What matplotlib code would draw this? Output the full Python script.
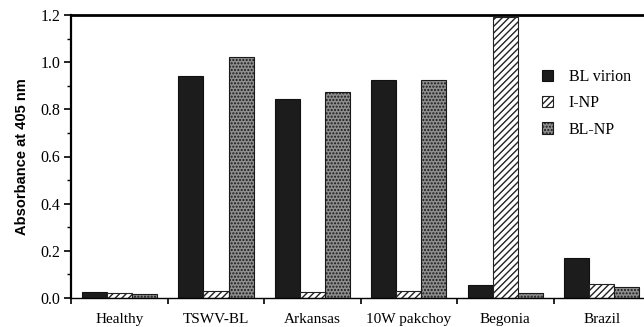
import matplotlib
matplotlib.use("Agg")
import matplotlib.pyplot as plt
from matplotlib.patches import Patch
from matplotlib.ticker import MultipleLocator, FixedLocator
import numpy as np

categories = ["Healthy", "TSWV-BL", "Arkansas", "10W pakchoy", "Begonia", "Brazil"]
bl_virion = [0.025, 0.94, 0.845, 0.925, 0.055, 0.17]
i_np = [0.02, 0.03, 0.025, 0.03, 1.19, 0.06]
bl_np = [0.017, 1.022, 0.874, 0.925, 0.02, 0.045]
series_names = ["BL virion", "I-NP", "BL-NP"]
y_ticks = [0.0, 0.2, 0.4, 0.6, 0.8, 1.0, 1.2]

serif = ["Liberation Serif", "DejaVu Serif"]
plt.rcParams["hatch.linewidth"] = 1.0

W, H = 644, 327
fig = plt.figure(figsize=(W / 100, H / 100), dpi=100)
left, right, top, bottom = 71.3, 650, 15, 298
ax = fig.add_axes([left / W, (H - bottom) / H, (right - left) / W, (bottom - top) / H])

x = np.arange(len(categories))
bw = 0.26
ax.bar(x - bw, bl_virion, bw, color="#1c1c1c", edgecolor="#111111", linewidth=0.8, label=series_names[0])
ax.bar(x, i_np, bw, color="white", edgecolor="#222222", hatch="/////", linewidth=0.8, label=series_names[1])
ax.bar(x + bw, bl_np, bw, color="#8e8e8e", edgecolor="#1a1a1a", hatch=".....", linewidth=0.8, label=series_names[2])

ax.set_xlim(-0.5, len(categories) - 0.5)
ax.set_ylim(0, 1.2)
ax.yaxis.set_major_locator(FixedLocator(y_ticks))
ax.yaxis.set_minor_locator(MultipleLocator(0.1))
ax.set_yticklabels([f"{v:.1f}" for v in y_ticks], fontfamily=serif, fontsize=11.5)

ax.set_xticks(x)
ax.set_xticklabels(categories, fontfamily=serif, fontsize=11)
ax.tick_params(axis="x", which="major", length=0, pad=11)
ax.set_xticks(np.arange(-0.5, len(categories) - 0.5, 1.0), minor=True)
ax.tick_params(axis="x", which="minor", length=4, width=1.2, direction="out")
ax.tick_params(axis="y", which="major", length=5, width=1.2, direction="out", pad=3)
ax.tick_params(axis="y", which="minor", length=3, width=1.0, direction="out")

ax.spines["right"].set_visible(False)
ax.spines["top"].set_linewidth(2.0)
ax.spines["left"].set_linewidth(1.6)
ax.spines["bottom"].set_linewidth(1.0)

ax.set_ylabel("Absorbance at 405 nm", fontfamily=["Liberation Sans", "DejaVu Sans"],
              fontweight="bold", fontsize=10.5, labelpad=8)

handles = [
    Patch(facecolor="#1c1c1c", edgecolor="#111111", linewidth=0.8),
    Patch(facecolor="white", edgecolor="#222222", hatch="/////", linewidth=0.8),
    Patch(facecolor="#8e8e8e", edgecolor="#1a1a1a", hatch=".....", linewidth=0.8),
]
leg = ax.legend(handles, series_names, loc="upper left", bbox_to_anchor=(0.813, 0.81),
                frameon=False, borderpad=0, borderaxespad=0, handlelength=0.7,
                handleheight=0.7, handletextpad=1.0, labelspacing=0.65,
                prop={"family": serif, "size": 11.5})

fig.savefig("out.png", dpi=100)
